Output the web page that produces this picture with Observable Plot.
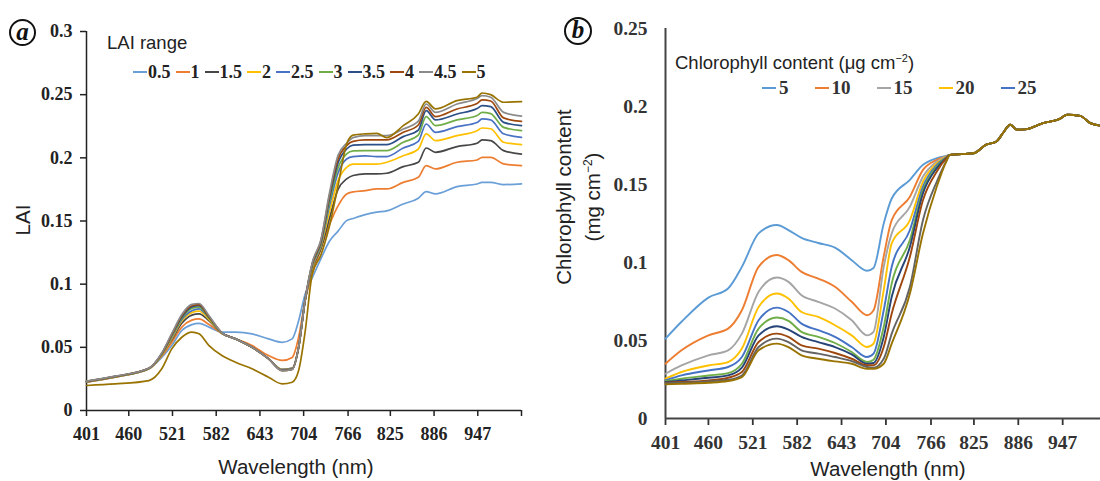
<!DOCTYPE html>
<html>
<head>
<meta charset="utf-8">
<script src="https://cdn.jsdelivr.net/npm/d3@7"></script>
<script src="https://cdn.jsdelivr.net/npm/@observablehq/plot@0.6"></script>
<style>
  body { margin: 0; background: #fff; }
  #wrap { position: relative; width: 1100px; height: 481px; background: #fff; overflow: hidden; }
  .abs { position: absolute; }
  .sans { font-family: "Liberation Sans", Arial, sans-serif; color: #222; white-space: nowrap; }
  .rot { transform: translate(-50%, -50%) rotate(-90deg); text-align: center; }
  .legrow { display: flex; align-items: center; font-family: "Liberation Serif", "Times New Roman", serif; font-weight: bold; color: #222; white-space: nowrap; }
  .legrow .sw { display: inline-block; width: 14px; height: 2px; margin-right: 1px; }
  .panel { border: 2px solid #111; border-radius: 50%; text-align: center; font-family: "Liberation Serif", serif; font-style: italic; font-weight: bold; color: #111; box-sizing: border-box; }
</style>
</head>
<body>
<div id="wrap">
  <div id="pa" class="abs" style="left:0;top:0"></div>
  <div id="pb" class="abs" style="left:545px;top:0"></div>
</div>
<script>
// ---------- Panel a : LAI ----------
const laiLevels = ["0.5", "1", "1.5", "2", "2.5", "3", "3.5", "4", "4.5", "5"];
const laiColors = ["#6a9fd8", "#ed7d31", "#474747", "#ffc000", "#4a72c4", "#70ad47", "#2b4f86", "#9e480e", "#8a8a8a", "#997300"];
const wlA = [401, 441, 488, 506, 520, 534, 548, 558, 572, 590, 609, 632, 655, 674, 688, 697, 706, 716, 728, 740, 752, 764, 773, 790, 806, 820, 843, 864, 875, 888, 918, 946, 953, 965, 983, 1008];
const lai05 = [.0224, .0264, .033, .042, .0514, .0633, .068, .069, .066, .062, .062, .0607, .0567, .054, .0567, .071, .092, .105, .12, .134, .142, .1503, .152, .155, .157, .158, .1635, .168, .1733, .1714, .1772, .1793, .1806, .1806, .1788, .1794];
const lai10 = [.0224, .0264, .033, .043, .054, .066, .0715, .0725, .068, .061, .0567, .0514, .0435, .0396, .042, .058, .087, .108, .128, .147, .162, .1714, .173, .174, .1754, .1754, .1806, .1846, .1938, .1912, .1965, .1983, .2004, .2004, .1952, .1938];
const lai15 = [.0226, .0266, .033, .044, .056, .069, .0755, .0765, .071, .061, .0567, .050, .041, .0325, .0335, .05, .087, .112, .128, .152, .175, .1833, .186, .1873, .1873, .1878, .193, .1965, .2078, .2044, .2089, .2115, .2142, .2136, .2057, .203];
const lai20 = [.0226, .0266, .033, .044, .057, .071, .0775, .0786, .072, .061, .0567, .050, .041, .0322, .0332, .05, .087, .113, .13, .157, .182, .1925, .195, .195, .195, .1965, .2017, .207, .219, .2136, .2176, .2215, .2236, .223, .2123, .2104];
const lai25 = [.0228, .0268, .0332, .0445, .058, .072, .079, .0804, .073, .0612, .0567, .050, .041, .032, .033, .05, .087, .114, .131, .162, .188, .1991, .201, .2015, .201, .201, .2078, .213, .2268, .2202, .2247, .228, .2308, .23, .219, .2162];
const lai30 = [.0228, .0268, .0332, .0445, .059, .073, .0808, .0818, .073, .0612, .0567, .050, .041, .0318, .0328, .05, .087, .115, .132, .165, .192, .2031, .2055, .2057, .2057, .2057, .2123, .218, .2326, .2255, .23, .2335, .236, .235, .2241, .2215];
const lai35 = [.023, .027, .0334, .045, .06, .074, .082, .083, .074, .0615, .0567, .050, .041, .0317, .0327, .05, .087, .116, .133, .168, .196, .207, .21, .2104, .2104, .2104, .2168, .222, .2373, .23, .2347, .239, .2413, .2405, .2281, .2255];
const lai40 = [.023, .027, .0334, .045, .06, .075, .083, .0838, .074, .0615, .0567, .050, .041, .0316, .0326, .05, .087, .116, .134, .17, .199, .2097, .213, .2142, .2142, .2142, .2202, .226, .24, .2326, .2387, .243, .2458, .245, .2316, .2288];
const lai45 = [.0232, .0272, .0335, .0455, .061, .076, .084, .0847, .075, .0615, .0567, .050, .041, .0315, .0325, .05, .087, .117, .135, .172, .202, .2115, .216, .2176, .2176, .2176, .2228, .229, .2426, .236, .2426, .247, .2492, .248, .236, .233];
const lai50 = [.0198, .021, .0237, .033, .0488, .058, .062, .0607, .0514, .0435, .0382, .033, .0264, .0211, .0224, .0316, .062, .108, .123, .146, .178, .211, .218, .219, .2194, .216, .2255, .2347, .2447, .2387, .2453, .248, .2513, .25, .244, .2445];
const laiSeries = [lai05, lai10, lai15, lai20, lai25, lai30, lai35, lai40, lai45, lai50];
const yTicksA = [0, 0.05, 0.1, 0.15, 0.2, 0.25, 0.3];
const yLabelsA = ["0", "0.05", "0.1", "0.15", "0.2", "0.25", "0.3"];
const xTickLabels = [401, 460, 521, 582, 643, 704, 766, 825, 886, 947];
const xDomainA = [401, 1008];

// ---------- Panel b : Chlorophyll ----------
const chlLevels = ["5", "10", "15", "20", "25", "30", "35", "40", "45", "50"];
const chlColors = ["#5b9bd5", "#ed7d31", "#a5a5a5", "#ffc000", "#4472c4", "#70ad47", "#264478", "#9e480e", "#636363", "#997300"];
const wlB = [401, 423, 460, 487, 506, 529, 554, 570, 588, 611, 634, 657, 678, 687, 701, 712, 737, 755, 774, 787];
const wlTail = [792, 824, 842, 856, 865, 875, 884, 898, 920, 943, 953, 971, 985, 999];
const tailVals = [.169, .170, .1755, .1776, .183, .1883, .1851, .1855, .1894, .192, .1947, .194, .1894, .1877];
const chl05 = [.0512, .062, .0775, .0833, .0972, .1187, .124, .1208, .1158, .1125, .1095, .1015, .0947, .0965, .125, .141, .153, .1626, .1669, .1684];
const chl10 = [.0351, .0437, .0533, .0576, .0694, .0972, .1048, .1015, .094, .0897, .0844, .0748, .0662, .0694, .104, .1272, .1422, .1594, .1658, .168];
const chl15 = [.0287, .034, .0405, .0437, .0544, .0812, .0904, .0876, .079, .0748, .0705, .063, .0533, .0555, .0972, .1187, .1358, .1551, .1647, .168];
const chl20 = [.0255, .0298, .034, .0362, .0448, .0715, .0801, .0769, .0683, .0651, .0598, .0533, .0458, .048, .0823, .1123, .1272, .1519, .1637, .1678];
const chl25 = [.0244, .0276, .0308, .033, .0394, .063, .0711, .0683, .0608, .0566, .0523, .0458, .0394, .0416, .0694, .0973, .1208, .1487, .1626, .1675];
const chl30 = [.024, .0255, .0276, .0291, .0351, .0576, .0647, .0626, .0555, .0523, .0484, .0426, .0362, .0377, .0587, .0866, .1144, .1465, .1615, .1672];
const chl35 = [.0234, .0244, .0261, .0276, .0326, .0533, .0591, .057, .0523, .049, .0458, .0411, .0351, .0356, .0523, .078, .1101, .1444, .1605, .167];
const chl40 = [.0229, .0234, .0244, .0261, .0298, .049, .0544, .0523, .0469, .0448, .042, .0383, .0341, .0341, .0458, .0673, .1037, .1401, .1583, .1667];
const chl45 = [.0227, .0229, .0238, .0248, .0276, .0458, .0512, .049, .0437, .0416, .0394, .0368, .033, .0326, .0383, .0544, .0844, .1272, .1519, .165];
const chl50 = [.0219, .0223, .0229, .024, .0265, .0437, .048, .0458, .0405, .0383, .0366, .0351, .0319, .0319, .0351, .048, .0801, .1187, .1487, .1647];
const chlSeries = [chl05, chl10, chl15, chl20, chl25, chl30, chl35, chl40, chl45, chl50];
const chlLegend = ["5", "10", "15", "20", "25"];
const yTicksB = [0, 0.05, 0.1, 0.15, 0.2, 0.25];
const yLabelsB = ["0", "0.05", "0.1", "0.15", "0.2", "0.25"];
const xDomainB = [401, 999];

// ---------- build tables ----------
const dataA = laiSeries.flatMap((vals, i) => vals.map((v, j) => ({wl: wlA[j], v, s: laiLevels[i]})));
const wlBAll = wlB.concat(wlTail);
const dataB = chlSeries.flatMap((vals, i) => vals.concat(tailVals).map((v, j) => ({wl: wlBAll[j], v, s: chlLevels[i]})));

const fmt = (ticks, labels) => d => { const k = ticks.indexOf(d); return k >= 0 ? labels[k] : ""; };

const plotA = Plot.plot({
  width: 545, height: 481,
  marginLeft: 86, marginRight: 24, marginTop: 31, marginBottom: 71,
  x: {domain: xDomainA},
  y: {domain: [0, 0.3]},
  color: {domain: laiLevels, range: laiColors},
  style: {fontFamily: "'Liberation Serif', 'Times New Roman', serif", fontSize: "18px", fontWeight: "bold", color: "#222", background: "transparent"},
  marks: [
    Plot.axisY({ticks: yTicksA, tickFormat: fmt(yTicksA, yLabelsA), tickSize: 6, tickPadding: 8, label: null, strokeWidth: 1.5}),
    Plot.axisX({ticks: xTickLabels.concat([xDomainA[1]]), tickFormat: fmt(xTickLabels, xTickLabels.map(String)), tickSize: 6, tickPadding: 11, label: null, strokeWidth: 1.5}),
    Plot.ruleX([xDomainA[0]], {y1: 0, y2: 0.3, stroke: "#222", strokeWidth: 1.5}),
    Plot.ruleY([0], {stroke: "#222", strokeWidth: 1.5}),
    Plot.line(dataA, {x: "wl", y: "v", z: "s", stroke: "s", curve: "monotone-x", strokeWidth: 1.7})
  ]
});
document.getElementById("pa").appendChild(plotA);

const plotB = Plot.plot({
  width: 555, height: 481,
  marginLeft: 120, marginRight: 0, marginTop: 28, marginBottom: 63,
  x: {domain: xDomainB},
  y: {domain: [0, 0.25]},
  color: {domain: chlLevels, range: chlColors},
  style: {fontFamily: "'Liberation Serif', 'Times New Roman', serif", fontSize: "19.5px", fontWeight: "bold", color: "#333", background: "transparent"},
  marks: [
    Plot.axisY({ticks: yTicksB, tickFormat: fmt(yTicksB, yLabelsB), tickSize: 0, tickPadding: 18, label: null}),
    Plot.axisX({ticks: xTickLabels, tickFormat: fmt(xTickLabels, xTickLabels.map(String)), tickSize: 7, tickPadding: 10, label: null, strokeWidth: 1.8}),
    Plot.ruleX([xDomainB[0]], {y1: 0, y2: 0.25, stroke: "#444", strokeWidth: 2}),
    Plot.ruleY([0], {stroke: "#444", strokeWidth: 2}),
    Plot.line(dataB, {x: "wl", y: "v", z: "s", stroke: "s", curve: "monotone-x", strokeWidth: 1.9})
  ]
});
document.getElementById("pb").appendChild(plotB);

// ---------- text overlays ----------
const wrap = document.getElementById("wrap");
function addDiv(html, cls, css) {
  const d = document.createElement("div");
  d.className = "abs " + cls;
  d.innerHTML = html;
  Object.assign(d.style, css);
  wrap.appendChild(d);
  return d;
}
// panel labels
addDiv("a", "panel", {left: "9px", top: "19px", width: "27px", height: "27px", fontSize: "25px", lineHeight: "21px"});
addDiv("b", "panel", {left: "564px", top: "17px", width: "28px", height: "28px", fontSize: "25px", lineHeight: "22px"});
// axis titles
addDiv("Wavelength (nm)", "sans", {left: "296px", top: "467px", transform: "translate(-50%,-50%)", fontSize: "20.5px"});
addDiv("Wavelength (nm)", "sans", {left: "888px", top: "469px", transform: "translate(-50%,-50%)", fontSize: "20.5px"});
addDiv("LAI", "sans rot", {left: "23px", top: "220px", fontSize: "20.5px"});
addDiv("Chlorophyll content<br>(mg cm<sup style='font-size:12px'>−2</sup>)", "sans rot", {left: "578px", top: "197px", fontSize: "20.5px", lineHeight: "25px"});
// legend a
addDiv("LAI range", "sans", {left: "107px", top: "32px", fontSize: "18.5px"});
const rowA = addDiv("", "legrow", {left: "133px", top: "62px", fontSize: "18px", lineHeight: "20px"});
laiLevels.forEach((l, i) => {
  rowA.insertAdjacentHTML("beforeend", `<span class="sw" style="background:${laiColors[i]}"></span><span style="margin-right:5px">${l}</span>`);
});
// legend b
addDiv("Chlorophyll content (μg cm<sup style='font-size:11px'>−2</sup>)", "sans", {left: "675px", top: "52px", fontSize: "18.5px"});
const rowB = addDiv("", "legrow", {left: "762px", top: "78px", fontSize: "19px", lineHeight: "20px", color: "#333"});
chlLegend.forEach((l, i) => {
  rowB.insertAdjacentHTML("beforeend", `<span class="sw" style="background:${chlColors[i]};margin-right:3px"></span><span style="margin-right:26px">${l}</span>`);
});
</script>
</body>
</html>
